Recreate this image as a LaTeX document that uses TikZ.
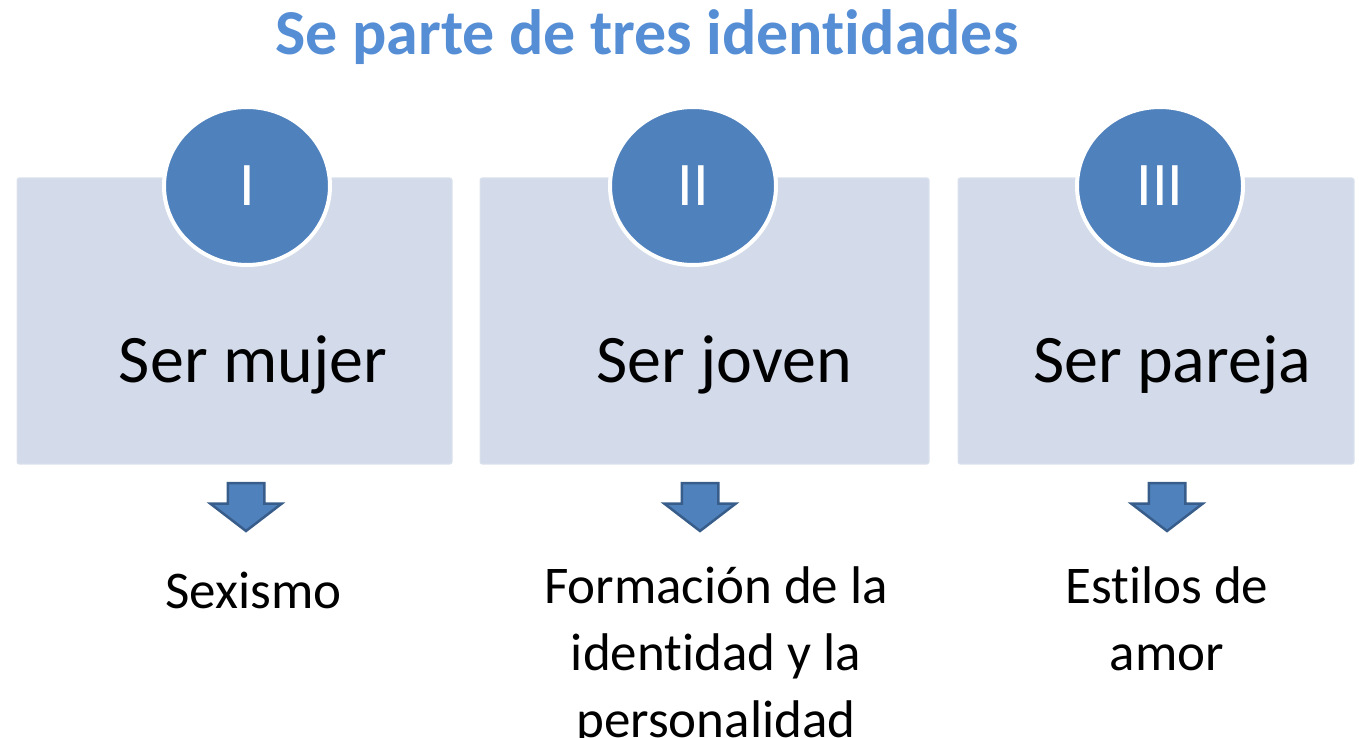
\documentclass[tikz,border=0pt]{standalone}
\usepackage{fontspec}
\setmainfont{Carlito}[Ligatures={NoCommon}]
\usetikzlibrary{positioning, shapes.geometric, shapes.arrows}
\definecolor{titleblue}{RGB}{85,142,213}
\definecolor{accentblue}{RGB}{79,129,189}
\definecolor{edgeblue}{RGB}{56,93,138}
\definecolor{panelfill}{RGB}{211,219,234}
\tikzset{
  panel/.style={rectangle, fill=panelfill, draw=panelfill!80!white, line width=1pt, rounded corners=2pt, minimum width=#1, minimum height=286pt, inner sep=0pt},
  badge/.style={ellipse, fill=accentblue, draw=white, line width=4pt, minimum width=166pt, minimum height=158pt, inner sep=0pt, text=white, font=\fontsize{62}{70}\selectfont},
  downarrow/.style={single arrow, fill=accentblue, draw=edgeblue, line width=2.5pt, rotate=-90, minimum height=48pt, inner xsep=0pt, inner ysep=17pt, single arrow head extend=17.5pt, single arrow tip angle=105},
}
\begin{document}
\begin{tikzpicture}[x=1pt, y=-1pt, node distance=17pt]
  \useasboundingbox (0,0) rectangle (1359,738);
  \tikzset{
    heading/.style={font=\fontsize{68}{80}\selectfont, anchor=base},
    result/.style={font=\fontsize{53}{67}\selectfont, align=center, anchor=base},
  }

  % Title
  \node[text=titleblue, font=\bfseries\fontsize{64}{76}\selectfont, anchor=base] (title) at (647,55) {Se parte de tres identidades};

  % Panels
  \node[panel=435pt] (mujer) at (234.5,321) {};
  \node[panel=449pt] (joven) at (704.5,321) {};
  \node[panel=396pt] (pareja) at (1156,321) {};

  % Numbered badges
  \node[badge] (one) at (247,186) {I};
  \node[badge] (two) at (693,186) {II};
  \node[badge] (three) at (1160,186) {III};

  % Panel texts
  \node[heading] (mujerlbl) at (253,382) {Ser mujer};
  \node[heading] (jovenlbl) at (724,382) {Ser joven};
  \node[heading] (parejalbl) at (1172,382) {Ser pareja};

  % Arrows
  \node[downarrow] (arrowA) at (246,500) {};
  \node[downarrow] (arrowB) at (700,500) {};
  \node[downarrow] (arrowC) at (1167,500) {};

  % Results (base = last line)
  \node[result] (sexismo) at (253.5,608) {Sexismo};
  \node[result] (formacion) at (716,737) {Formación de la\\identidad y la\\personalidad};
  \node[result] (estilos) at (1167,670) {Estilos de\\amor};

\end{tikzpicture}
\end{document}
